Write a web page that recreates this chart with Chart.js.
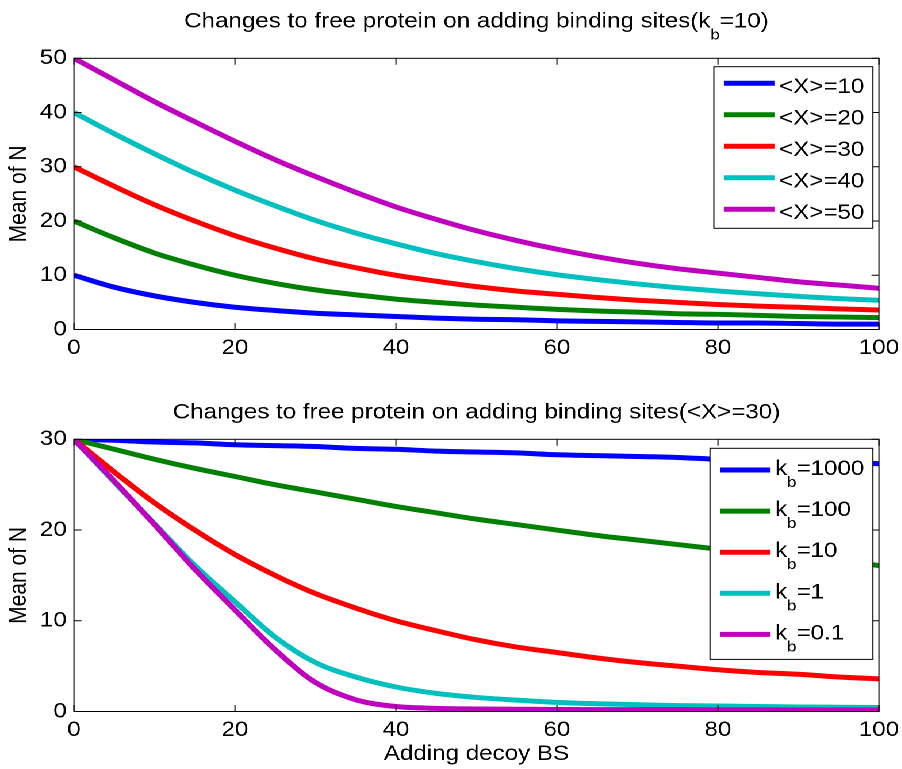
<!DOCTYPE html>
<html>
<head>
<meta charset="utf-8">
<script src="https://cdn.jsdelivr.net/npm/chart.js@4/dist/chart.umd.min.js"></script>
<style>
  html, body { margin: 0; padding: 0; background: #fff; overflow: hidden; }
  /* the figure is laid out at 784px and widened to the window width */
  #fig { position: absolute; left: 0; top: 0; width: 784px; height: 769px;
         transform: scaleX(1.15); transform-origin: 0 0; }
  #fig canvas { display: block; }
</style>
</head>
<body>
<div id="fig">
  <canvas id="topChart" width="784" height="385"></canvas>
  <canvas id="bottomChart" width="784" height="384"></canvas>
</div>
<script>
// ---- data -------------------------------------------------------------
const decoyBS = [0, 5, 10, 15, 20, 25, 30, 35, 40, 45, 50, 55, 60, 65, 70, 75, 80, 85, 90, 95, 100];

const xTickValues = [0, 20, 40, 60, 80, 100];
const yTickValuesTop = [0, 10, 20, 30, 40, 50];
const yTickValuesBottom = [0, 10, 20, 30];

// mean free protein for several totals <X>, k_b = 10
const meanX10 = [10, 7.8, 6.2, 5.0, 4.1, 3.5, 3.0, 2.7, 2.4, 2.1, 1.9, 1.8, 1.6, 1.5, 1.4, 1.3, 1.2, 1.2, 1.1, 1.0, 1.0];
const meanX20 = [20, 16.9, 14.1, 11.9, 10.0, 8.5, 7.3, 6.4, 5.6, 5.0, 4.5, 4.1, 3.7, 3.4, 3.2, 2.9, 2.8, 2.6, 2.4, 2.3, 2.2];
const meanX30 = [30, 26.4, 23.0, 20.0, 17.3, 15.0, 13.0, 11.4, 10.0, 8.9, 7.9, 7.1, 6.5, 5.9, 5.4, 5.0, 4.6, 4.3, 4.1, 3.8, 3.6];
const meanX40 = [40, 36.1, 32.4, 28.9, 25.7, 22.8, 20.1, 17.8, 15.8, 14.0, 12.5, 11.2, 10.1, 9.2, 8.4, 7.7, 7.1, 6.6, 6.1, 5.7, 5.4];
const meanX50 = [50, 46.0, 42.0, 38.3, 34.7, 31.3, 28.2, 25.3, 22.6, 20.3, 18.2, 16.4, 14.8, 13.4, 12.2, 11.2, 10.4, 9.6, 8.8, 8.2, 7.6];

// mean free protein for several k_b, <X> = 30
const meanKb1000 = [30, 29.9, 29.7, 29.6, 29.4, 29.3, 29.2, 29.0, 28.9, 28.7, 28.6, 28.5, 28.3, 28.2, 28.1, 28.0, 27.8, 27.7, 27.6, 27.5, 27.3];
const meanKb100  = [30, 28.9, 27.8, 26.8, 25.9, 25.0, 24.2, 23.4, 22.6, 21.9, 21.2, 20.6, 20.0, 19.4, 18.9, 18.4, 17.9, 17.4, 17.0, 16.5, 16.1];
const meanKb10   = [30, 26.4, 23.0, 20.0, 17.3, 15.0, 13.0, 11.4, 10.0, 8.9, 7.9, 7.1, 6.5, 5.9, 5.4, 5.0, 4.6, 4.3, 4.1, 3.8, 3.6];
const meanKb1    = [30, 25.3, 20.7, 16.1, 12.1, 8.2, 5.4, 3.8, 2.7, 2.0, 1.55, 1.25, 1.0, 0.85, 0.75, 0.65, 0.6, 0.55, 0.5, 0.47, 0.44];
const meanKb01   = [30, 25.4, 20.6, 15.7, 11.2, 6.8, 3.2, 1.3, 0.55, 0.35, 0.28, 0.25, 0.22, 0.2, 0.2, 0.2, 0.18, 0.18, 0.17, 0.17, 0.16];

const topLabels = ['<X>=10', '<X>=20', '<X>=30', '<X>=40', '<X>=50'];
const bottomLabels = ['k_b=1000', 'k_b=100', 'k_b=10', 'k_b=1', 'k_b=0.1'];
const topTitle = 'Changes to free protein on adding binding sites(k_b=10)';
const bottomTitle = 'Changes to free protein on adding binding sites(<X>=30)';
const yAxisLabel = 'Mean of N';
const xAxisLabel = 'Adding decoy BS';

// ---- styling ------------------------------------------------------------
const lineColors = ['#0000FF', '#008000', '#FF0000', '#00BFBF', '#BF00BF'];
const FONT = '"Liberation Sans", Arial, Helvetica, sans-serif';
const FS = 21;        // main text size
const SUB_FS = 14.5;  // subscript size
const SUB_DROP = 12;  // subscript baseline shift
const LINE_W = 5;
const TICK_LEN = 6.5;
const AXIS_W = 64.3;  // room for y tick labels and y title
const PAD_RIGHT = 19.7;

// "k_b" -> k with subscript b
function richParts(str) {
  const parts = [];
  let buf = '';
  for (let i = 0; i < str.length; i++) {
    if (str[i] === '_' && i + 1 < str.length) {
      if (buf) parts.push({ t: buf, sub: false });
      buf = '';
      parts.push({ t: str[i + 1], sub: true });
      i++;
    } else {
      buf += str[i];
    }
  }
  if (buf) parts.push({ t: buf, sub: false });
  return parts;
}
function setFont(ctx, sub) { ctx.font = (sub ? SUB_FS : FS) + 'px ' + FONT; }
function richWidth(ctx, parts) {
  let w = 0;
  parts.forEach(p => { setFont(ctx, p.sub); w += ctx.measureText(p.t).width; });
  return w;
}
function drawRich(ctx, parts, x, baseline) {
  ctx.textAlign = 'left';
  ctx.textBaseline = 'alphabetic';
  parts.forEach(p => {
    setFont(ctx, p.sub);
    ctx.fillText(p.t, x, p.sub ? baseline + SUB_DROP : baseline);
    x += ctx.measureText(p.t).width;
  });
}

// box, inner tick marks, legend and title
const decorPlugin = {
  id: 'figDecor',
  afterDraw(chart, args, o) {
    const { ctx, chartArea: a, scales } = chart;
    ctx.save();
    ctx.strokeStyle = '#000';
    ctx.lineWidth = 1;
    ctx.strokeRect(a.left, a.top, a.right - a.left, a.bottom - a.top);
    ctx.beginPath();
    scales.x.ticks.forEach(t => {
      const px = scales.x.getPixelForValue(t.value);
      ctx.moveTo(px, a.bottom); ctx.lineTo(px, a.bottom - TICK_LEN);
      ctx.moveTo(px, a.top); ctx.lineTo(px, a.top + TICK_LEN);
    });
    scales.y.ticks.forEach(t => {
      const py = scales.y.getPixelForValue(t.value);
      ctx.moveTo(a.left, py); ctx.lineTo(a.left + TICK_LEN, py);
      ctx.moveTo(a.right, py); ctx.lineTo(a.right - TICK_LEN, py);
    });
    ctx.stroke();

    // legend
    const L = o.legend;
    const sets = chart.data.datasets;
    let maxW = 0;
    sets.forEach(ds => { maxW = Math.max(maxW, richWidth(ctx, richParts(ds.label))); });
    const w = L.padLeft + L.lineLen + L.gap + maxW + L.padRight;
    const h = L.padTop + (sets.length - 1) * L.rowH + L.padBottom;
    const x0 = a.right - L.insetRight - w;
    const y0 = a.top + L.insetTop;
    ctx.fillStyle = '#fff';
    ctx.fillRect(x0, y0, w, h);
    ctx.strokeStyle = '#000';
    ctx.lineWidth = 1;
    ctx.strokeRect(x0, y0, w, h);
    sets.forEach((ds, i) => {
      const y = y0 + L.padTop + i * L.rowH;
      ctx.strokeStyle = ds.borderColor;
      ctx.lineWidth = LINE_W;
      ctx.beginPath();
      ctx.moveTo(x0 + L.padLeft, y);
      ctx.lineTo(x0 + L.padLeft + L.lineLen, y);
      ctx.stroke();
      ctx.fillStyle = '#000';
      drawRich(ctx, richParts(ds.label), x0 + L.padLeft + L.lineLen + L.gap, y + L.textShift);
    });

    // title
    const tp = richParts(o.title);
    const tw = richWidth(ctx, tp);
    ctx.fillStyle = '#000';
    drawRich(ctx, tp, (a.left + a.right) / 2 - tw / 2, a.top - o.titleGap);
    ctx.restore();
  }
};

function series(vals) { return decoyBS.map((x, i) => ({ x: x, y: vals[i] })); }

function noEdgePadding(s) { s.paddingLeft = 0; s.paddingRight = 0; s.paddingTop = 0; s.paddingBottom = 0; }

function makeChart(id, cfg) {
  const n = cfg.values.length;
  const datasets = cfg.values.map((vals, i) => ({
    label: cfg.labels[i],
    data: series(vals),
    borderColor: lineColors[i],
    backgroundColor: lineColors[i],
    borderWidth: LINE_W,
    pointRadius: 0,
    fill: false,
    cubicInterpolationMode: 'monotone',
    order: n - i
  }));
  const tickFont = { family: FONT, size: FS };
  return new Chart(document.getElementById(id), {
    type: 'line',
    data: { datasets: datasets },
    plugins: [decorPlugin],
    options: {
      responsive: false,
      animation: false,
      devicePixelRatio: 2,
      layout: { padding: { top: cfg.padTop, right: PAD_RIGHT, bottom: 0, left: 0 } },
      plugins: {
        legend: { display: false },
        tooltip: { enabled: false },
        title: { display: false },
        figDecor: { title: cfg.title, titleGap: cfg.titleGap, legend: cfg.legend }
      },
      scales: {
        x: {
          type: 'linear', min: 0, max: 100,
          afterBuildTicks: s => { s.ticks = xTickValues.map(v => ({ value: v })); },
          ticks: { color: '#000', font: tickFont, padding: 6, maxRotation: 0, autoSkip: false },
          grid: { display: false, drawTicks: false },
          border: { display: false },
          title: { display: !!cfg.xTitle, text: cfg.xTitle || '', color: '#000', font: tickFont, padding: { top: 0, bottom: 2 } },
          afterFit: s => { s.height = cfg.xHeight; noEdgePadding(s); }
        },
        y: {
          type: 'linear', min: 0, max: cfg.yMax,
          afterBuildTicks: s => { s.ticks = cfg.yTicks.map(v => ({ value: v })); },
          ticks: { color: '#000', font: tickFont, padding: 6.3 },
          grid: { display: false, drawTicks: false },
          border: { display: false },
          title: { display: true, text: yAxisLabel, color: '#000', font: tickFont, padding: { top: 4, bottom: 0 } },
          afterFit: s => { s.width = AXIS_W; noEdgePadding(s); }
        }
      }
    }
  });
}

makeChart('topChart', {
  values: [meanX10, meanX20, meanX30, meanX40, meanX50],
  labels: topLabels,
  title: topTitle,
  titleGap: 31,
  yMax: 50,
  yTicks: yTickValuesTop,
  padTop: 58.3,
  xHeight: 55.5,
  legend: { padLeft: 8.7, lineLen: 44, gap: 4, padRight: 7.5, padTop: 16.6, rowH: 31.5, padBottom: 19,
            insetRight: 5.2, insetTop: 8.4, textShift: 9.9 }
});

makeChart('bottomChart', {
  values: [meanKb1000, meanKb100, meanKb10, meanKb1, meanKb01],
  labels: bottomLabels,
  title: bottomTitle,
  titleGap: 21,
  yMax: 30,
  yTicks: yTickValuesBottom,
  padTop: 54.3,
  xHeight: 57.5,
  xTitle: xAxisLabel,
  legend: { padLeft: 8.7, lineLen: 44, gap: 4, padRight: 7.5, padTop: 21.7, rowH: 41.1, padBottom: 25,
            insetRight: 5.2, insetTop: 9, textShift: 5 }
});
</script>
</body>
</html>
